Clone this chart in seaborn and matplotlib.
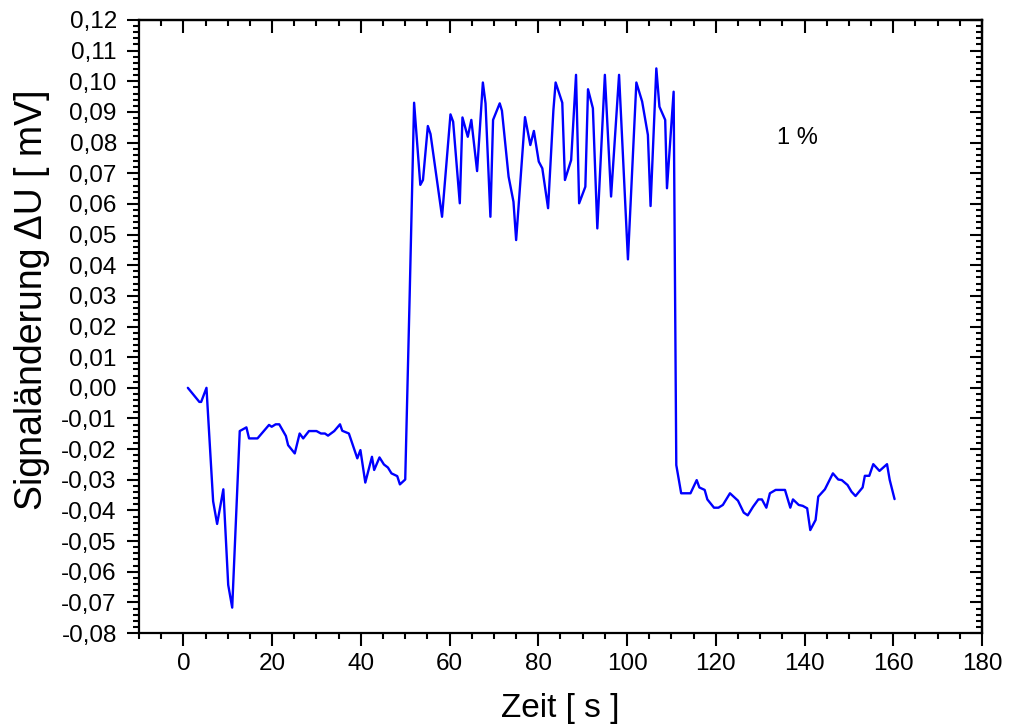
import matplotlib
matplotlib.use("Agg")
import matplotlib.pyplot as plt
from matplotlib.ticker import MultipleLocator, FuncFormatter
import seaborn as sns
import pandas as pd

# --- data (time in s, signal change in mV) ---
t_before = [1.0, 3.6, 4.0, 5.2, 6.7, 7.6, 9.0, 10.1, 11.0, 12.7, 14.2, 14.8, 16.7,
            19.3, 19.9, 20.8, 21.6, 23.1, 23.6, 25.1, 26.2, 27.0, 28.3, 30.0, 31.0,
            31.9, 32.6, 34.0, 35.3, 35.8, 37.3, 38.1, 39.2, 39.9, 41.0, 42.5, 43.0,
            44.2, 45.2, 46.1, 46.9, 48.2, 48.8, 50.0, 51.0]
u_before = [0.000, -0.0046, -0.0046, 0.000, -0.037, -0.0444, -0.0331, -0.0643, -0.0717,
            -0.0141, -0.0129, -0.0165, -0.0165, -0.0121, -0.0127, -0.0119, -0.0119,
            -0.0157, -0.0187, -0.0214, -0.0149, -0.0165, -0.0141, -0.0141, -0.0149,
            -0.0149, -0.0156, -0.0141, -0.0119, -0.0140, -0.0149, -0.0183, -0.0230,
            -0.0203, -0.0309, -0.0225, -0.0268, -0.0227, -0.0250, -0.0260, -0.0279,
            -0.0288, -0.0315, -0.0299, 0.030]

t_gas = [52.0, 53.4, 54.0, 55.1, 55.7, 58.3, 60.2, 60.8, 62.3, 62.9, 64.1, 64.9, 66.2,
         67.5, 68.1, 69.2, 69.8, 71.3, 71.8, 73.3, 74.4, 75.0, 77.0, 78.2, 79.0, 80.1,
         80.9, 82.2, 83.4, 83.9, 85.4, 86.0, 87.4, 88.5, 89.2, 90.6, 91.2, 92.3, 93.3,
         95.0, 96.4, 98.2, 100.2, 102.1, 103.4, 104.7, 105.3, 106.6, 107.3, 108.6,
         109.0, 110.5]
u_gas = [0.0930, 0.0662, 0.0678, 0.0854, 0.0828, 0.0558, 0.0892, 0.0868, 0.0602,
         0.0882, 0.0819, 0.0874, 0.0707, 0.0996, 0.0928, 0.0558, 0.0874, 0.0928,
         0.0904, 0.0689, 0.0607, 0.0482, 0.0883, 0.0792, 0.0838, 0.0738, 0.0716,
         0.0586, 0.0906, 0.0996, 0.0930, 0.0678, 0.0743, 0.1021, 0.0602, 0.0656,
         0.0974, 0.0912, 0.0520, 0.1021, 0.0624, 0.1021, 0.0419, 0.0996, 0.0934,
         0.0825, 0.0593, 0.1042, 0.0917, 0.0874, 0.0651, 0.0966]

t_after = [111.1, 112.2, 114.3, 115.7, 116.3, 117.5, 118.1, 119.6, 120.6, 121.6, 123.2,
           125.0, 126.3, 127.2, 128.4, 129.6, 130.4, 131.4, 132.2, 133.5, 135.6, 136.8,
           137.4, 138.7, 139.6, 140.6, 141.3, 142.5, 143.1, 144.6, 146.4, 147.6, 148.4,
           149.7, 150.6, 151.5, 153.1, 153.6, 154.6, 155.5, 156.9, 158.6, 159.2, 160.3]
u_after = [-0.0252, -0.0344, -0.0344, -0.0301, -0.0325, -0.0333, -0.0364, -0.0391,
           -0.0391, -0.0382, -0.0344, -0.0368, -0.0407, -0.0416, -0.0388, -0.0364,
           -0.0364, -0.0391, -0.0344, -0.0333, -0.0333, -0.0391, -0.0364, -0.0382,
           -0.0385, -0.0393, -0.0464, -0.0431, -0.0355, -0.0331, -0.0279, -0.0299,
           -0.0301, -0.0317, -0.0339, -0.0353, -0.0325, -0.0287, -0.0287, -0.0249,
           -0.0271, -0.0249, -0.0300, -0.0363]

label_text = "1 %"

df = pd.DataFrame({
    "t": t_before + t_gas + t_after,
    "u": u_before + u_gas + u_after,
})

sns.set_theme(style="ticks", rc={"text.color": "black", "axes.labelcolor": "black",
                                 "xtick.color": "black", "ytick.color": "black",
                                 "axes.edgecolor": "black"})
plt.rcParams["font.family"] = ["Liberation Sans", "DejaVu Sans"]

fig = plt.figure(figsize=(10.09, 7.26), dpi=100)
ax = fig.add_axes([0.1378, 0.128, 0.8354, 0.8445])

sns.lineplot(data=df, x="t", y="u", color="#0000ff", linewidth=1.7, sort=False,
             estimator=None, ax=ax)

ax.set_xlim(-10, 180)
ax.set_ylim(-0.08, 0.12)

ax.xaxis.set_major_locator(MultipleLocator(20))
ax.xaxis.set_minor_locator(MultipleLocator(5))
ax.yaxis.set_major_locator(MultipleLocator(0.01))
ax.yaxis.set_minor_locator(MultipleLocator(0.002))


def comma_fmt(v, pos):
    s = f"{v:.2f}".replace(".", ",")
    if s == "-0,00":
        s = "0,00"
    return s


ax.yaxis.set_major_formatter(FuncFormatter(comma_fmt))
ax.xaxis.set_major_formatter(FuncFormatter(lambda v, p: f"{v:.0f}"))

ax.tick_params(which="both", direction="out", width=1.5, colors="black",
               labelsize=17.5, top=False, right=False)
ax.tick_params(which="major", length=9)
ax.tick_params(which="minor", length=4.5)
ax.tick_params(axis="y", which="major", pad=7)
ax.tick_params(axis="x", which="major", pad=5)

# top and right ticks point inwards
sec_x = ax.secondary_xaxis("top")
sec_x.xaxis.set_major_locator(MultipleLocator(20))
sec_x.xaxis.set_minor_locator(MultipleLocator(5))
sec_x.tick_params(which="both", direction="in", width=1.5, labeltop=False)
sec_x.tick_params(which="major", length=9)
sec_x.tick_params(which="minor", length=4.5)

sec_y = ax.secondary_yaxis("right")
sec_y.yaxis.set_major_locator(MultipleLocator(0.01))
sec_y.yaxis.set_minor_locator(MultipleLocator(0.002))
sec_y.tick_params(which="both", direction="in", width=1.5, labelright=False)
sec_y.tick_params(which="major", length=9)
sec_y.tick_params(which="minor", length=4.5)

for sp in list(ax.spines.values()) + [sec_x.spines["top"], sec_y.spines["right"]]:
    sp.set_visible(True)
    sp.set_color("black")
    sp.set_linewidth(1.6)

ax.set_xlabel("Zeit [ s ]", fontsize=24)
ax.set_ylabel("Signaländerung ΔU [ mV]", fontsize=27)
ax.xaxis.set_label_coords(0.5, -0.097)
ax.yaxis.set_label_coords(-0.106, 0.543)

ax.text(138.4, 0.0815, label_text, ha="center", va="center", fontsize=17)

fig.savefig("out.png", dpi=100)
